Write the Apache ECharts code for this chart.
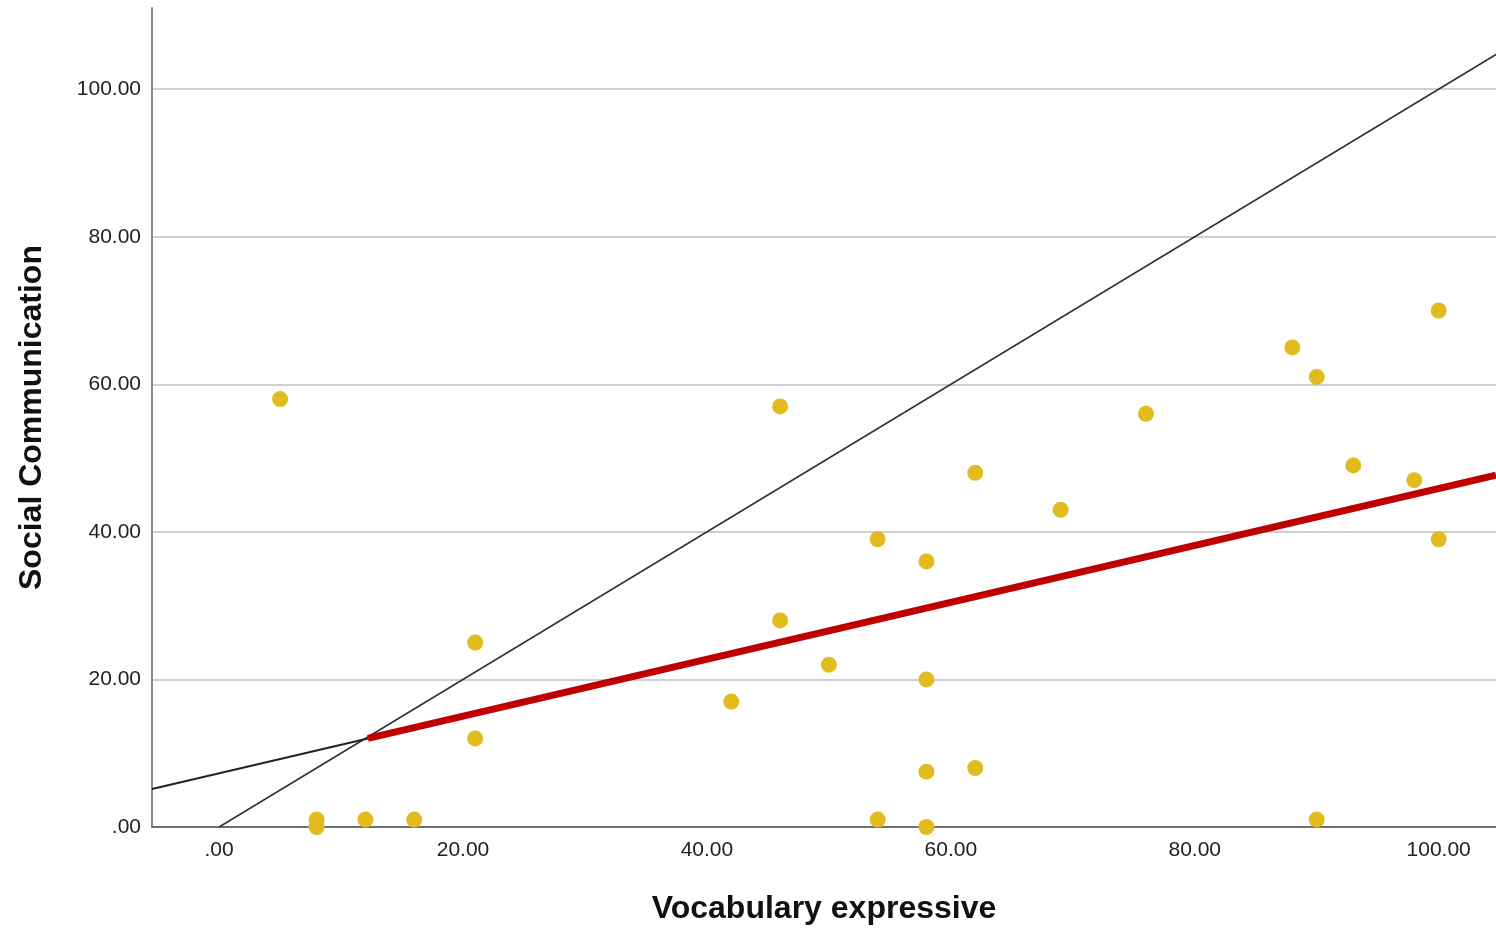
<!DOCTYPE html>
<html>
<head>
<meta charset="utf-8">
<script src="https://cdn.jsdelivr.net/npm/echarts@6/dist/echarts.min.js"></script>
<style>
html,body{margin:0;padding:0;background:#fff;}
#chart{width:1496px;height:928px;}
</style>
</head>
<body>
<div id="chart"></div>
<script>
// Observed points: Vocabulary expressive (x) vs Social Communication (y)
const pointX = [5, 8, 8, 12, 16, 21, 21, 42, 46, 46, 50, 54, 54, 58, 58, 58, 58, 62, 62, 69, 76, 88, 90, 90, 93, 98, 100, 100];
const pointY = [58, 1, 0, 1, 1, 25, 12, 17, 57, 28, 22, 39, 1, 36, 20, 7.5, 0, 48, 8, 43, 56, 65, 61, 1, 49, 47, 70, 39];

// Reference line (y = x)
const refLineX = [0, 120];
const refLineY = [0, 120];

// Fit line: thin black part and thick red part
const fitBlackX = [-5.5, 12.2];
const fitBlackY = [5.15, 12.0];
const fitRedX = [12.2, 104.7];
const fitRedY = [12.0, 47.7];

// Axis settings
const xTickValues = [0, 20, 40, 60, 80, 100];
const yTickValues = [0, 20, 40, 60, 80, 100];
const xTitle = 'Vocabulary expressive';
const yTitle = 'Social Communication';

function pairs(xs, ys) { return xs.map((x, i) => [x, ys[i]]); }
function fmt(v, ticks) {
  const hit = ticks.some(t => Math.abs(t - v) < 1e-6);
  if (!hit) return '';
  return v === 0 ? '.00' : v.toFixed(2);
}

const chart = echarts.init(document.getElementById('chart'), null, {renderer: 'canvas'});
const font = '"Liberation Sans", Arial, sans-serif';
chart.setOption({
  animation: false,
  backgroundColor: '#ffffff',
  grid: {left: 152, right: 0, top: 8, bottom: 101, containLabel: false, outerBoundsMode: 'none'},
  xAxis: {
    type: 'value', min: -5.5, max: 104.7, splitNumber: 5,
    name: xTitle, nameLocation: 'middle', nameGap: 66,
    nameTextStyle: {fontFamily: font, fontSize: 32, fontWeight: 'bold', color: '#111'},
    axisLine: {show: true, onZero: false, lineStyle: {color: '#707070', width: 2}},
    axisTick: {show: false},
    splitLine: {show: false},
    axisLabel: {
      show: true, margin: 13, fontFamily: font, fontSize: 21, color: '#222',
      showMinLabel: false, showMaxLabel: false,
      formatter: v => fmt(v, xTickValues)
    }
  },
  yAxis: {
    type: 'value', min: 0, max: 111, splitNumber: 5,
    name: yTitle, nameLocation: 'middle', nameGap: 104,
    nameTextStyle: {fontFamily: font, fontSize: 32, fontWeight: 'bold', color: '#111'},
    axisLine: {show: true, onZero: false, lineStyle: {color: '#8a8a8a', width: 2}},
    axisTick: {show: false},
    splitLine: {show: true, showMinLine: false, showMaxLine: false, lineStyle: {color: '#cfcfcf', width: 2}},
    axisLabel: {
      show: true, margin: 11, fontFamily: font, fontSize: 21, color: '#222',
      showMaxLabel: false,
      formatter: v => fmt(v, yTickValues)
    }
  },
  series: [
    {
      type: 'line', data: pairs(refLineX, refLineY), symbol: 'none', clip: true, z: 3,
      lineStyle: {color: '#333333', width: 1.6}
    },
    {
      type: 'line', data: pairs(fitBlackX, fitBlackY), symbol: 'none', clip: true, z: 3,
      lineStyle: {color: '#222222', width: 2}
    },
    {
      type: 'line', data: pairs(fitRedX, fitRedY), symbol: 'none', clip: true, z: 4,
      lineStyle: {color: '#C00000', width: 7, cap: 'butt'}
    },
    {
      type: 'scatter', data: pairs(pointX, pointY), symbol: 'circle', symbolSize: 16, z: 5,
      itemStyle: {color: '#E2BC1F', opacity: 1}
    }
  ]
});
</script>
</body>
</html>
